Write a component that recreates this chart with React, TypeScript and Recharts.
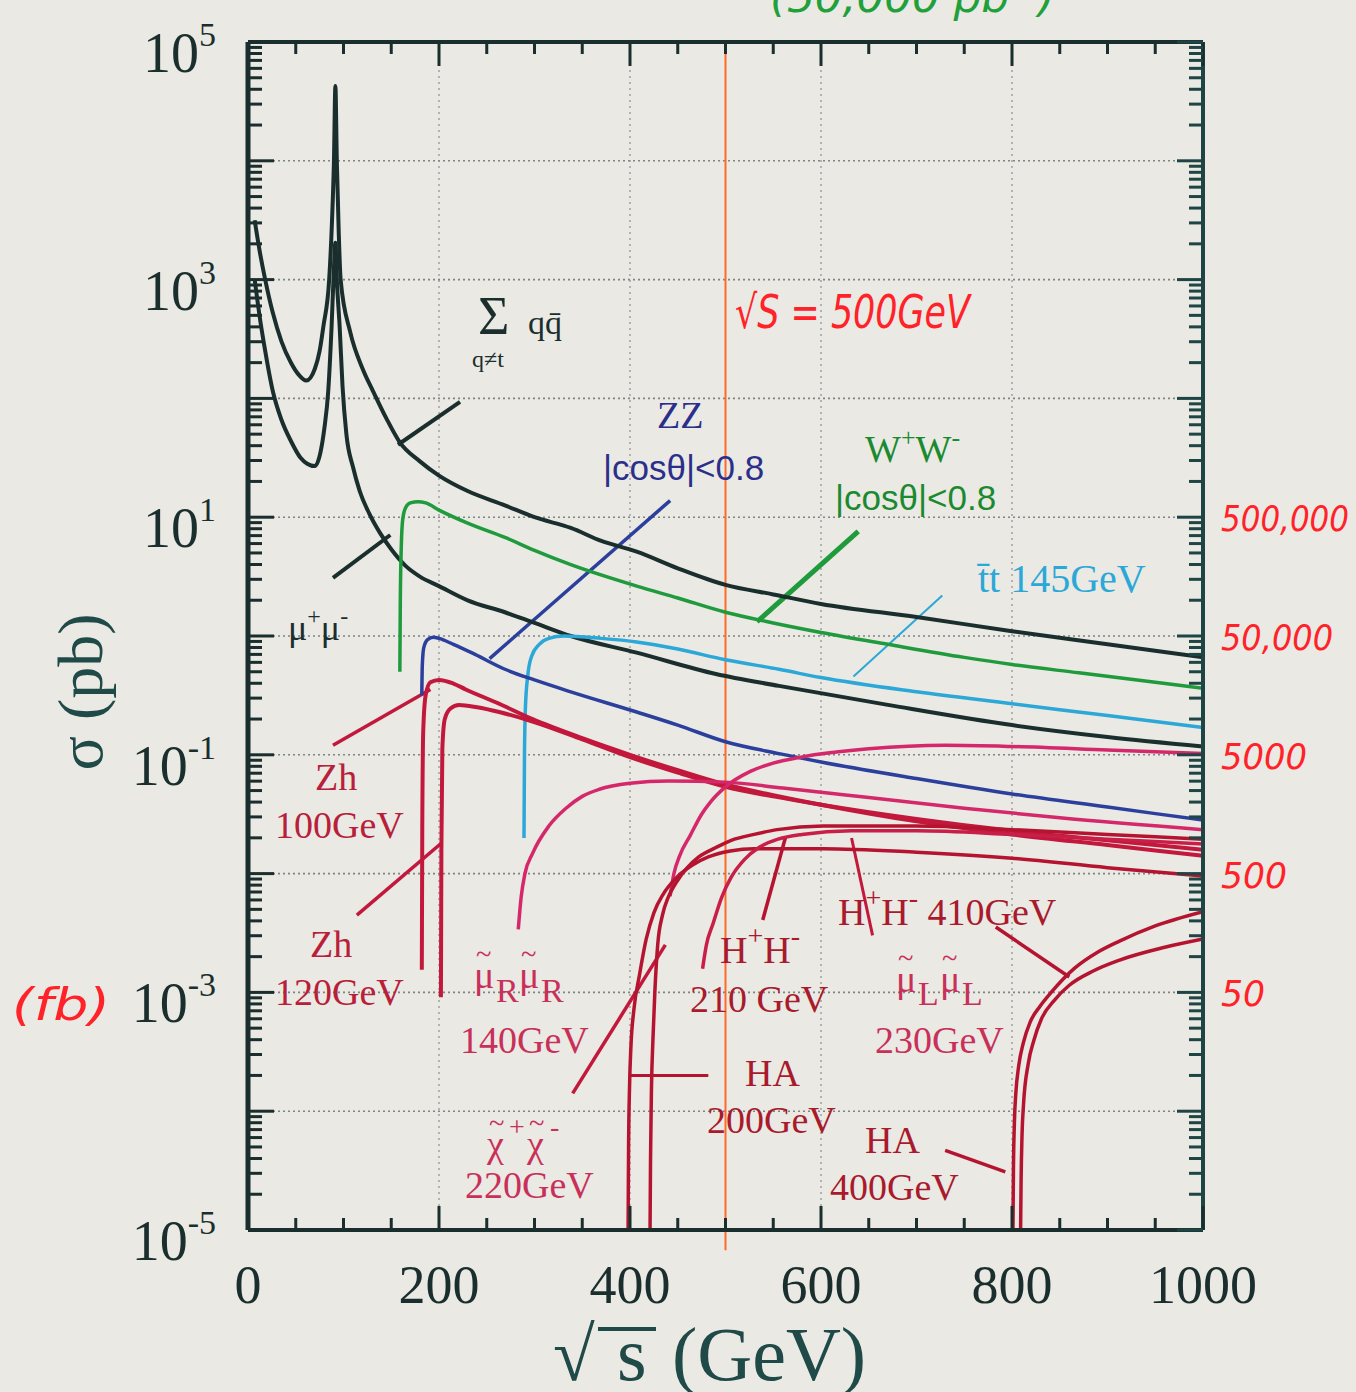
import React from "react";
import { LineChart, Line, XAxis, YAxis, ReferenceLine } from "recharts";

// [sqrt(s) in GeV, log10(sigma / pb)]
type Pt = [number, number];

const qqbar: Pt[] = [
  [7, 3.5], [12, 3.25], [18, 3.0], [26, 2.72], [35, 2.48], [45, 2.3], [53, 2.2], [61, 2.15],
  [70, 2.25], [75, 2.4], [79, 2.61], [85, 3.0], [88, 3.5], [90, 4.0], [91.5, 4.63], [93, 4.0],
  [95, 3.4], [97, 3.0], [107, 2.56], [120, 2.25], [131, 2.06], [145, 1.83], [159, 1.63],
  [180, 1.47], [200, 1.35], [230, 1.22], [269, 1.1], [300, 1.0], [338, 0.91], [370, 0.8],
  [407, 0.71], [450, 0.57], [500, 0.43], [550, 0.35], [600, 0.27], [700, 0.16], [800, 0.04],
  [900, -0.07], [1000, -0.18],
];

const mumu: Pt[] = [
  [7, 3.0], [12, 2.7], [18, 2.4], [26, 2.06], [35, 1.82], [45, 1.64], [55, 1.5], [62, 1.45],
  [70, 1.43], [76, 1.55], [80, 1.75], [84, 2.06], [87.5, 2.6], [90, 3.1], [91.5, 3.31],
  [93, 3.0], [96, 2.6], [99, 2.1], [103, 1.7], [110, 1.42], [117, 1.22], [127, 1.03],
  [138, 0.87], [150, 0.73], [165, 0.59], [180, 0.5], [200, 0.42], [230, 0.3], [269, 0.2],
  [300, 0.11], [338, 0.0], [407, -0.14], [490, -0.32], [556, -0.42], [670, -0.58],
  [800, -0.75], [900, -0.85], [1000, -0.93],
];

const wwPairs: Pt[] = [
  [159, -0.3], [159.5, 0.3], [160.5, 0.75], [162, 0.98], [165, 1.08], [170, 1.12], [178, 1.13],
  [186, 1.12], [200, 1.06], [230, 0.95], [269, 0.83], [300, 0.72], [338, 0.6], [407, 0.42],
  [450, 0.32], [500, 0.2], [550, 0.11], [600, 0.03], [670, -0.07], [750, -0.18], [800, -0.24],
  [870, -0.31], [950, -0.39], [1000, -0.44],
];

const zzPairs: Pt[] = [
  [182, -0.5], [182.5, -0.25], [184, -0.1], [188, -0.03], [194, -0.01], [200, -0.02],
  [215, -0.07], [234, -0.14], [269, -0.28], [300, -0.37], [338, -0.47], [407, -0.64],
  [450, -0.75], [500, -0.89], [556, -0.99], [600, -1.06], [700, -1.2], [800, -1.33],
  [900, -1.44], [1000, -1.55],
];

const ttbar: Pt[] = [
  [289, -1.7], [289.5, -1.0], [290.5, -0.6], [293, -0.33], [297, -0.17], [305, -0.07],
  [315, -0.02], [331, 0.0], [370, -0.02], [407, -0.05], [450, -0.11], [500, -0.2],
  [556, -0.28], [600, -0.35], [700, -0.47], [800, -0.57], [900, -0.67], [1000, -0.77],
];

const zh100: Pt[] = [
  [182, -2.81], [182.5, -1.6], [183.5, -0.8], [186, -0.5], [191, -0.39], [200, -0.37],
  [215, -0.4], [228, -0.45], [260, -0.56], [298, -0.7], [350, -0.86], [400, -1.0],
  [450, -1.13], [500, -1.25], [550, -1.34], [600, -1.42], [700, -1.56], [800, -1.67],
  [900, -1.76], [1000, -1.85],
];

const zh120: Pt[] = [
  [202, -3.04], [202.5, -1.8], [203.5, -0.95], [206, -0.7], [212, -0.61], [221, -0.58],
  [240, -0.6], [263, -0.64], [298, -0.72], [350, -0.87], [400, -1.02], [450, -1.15],
  [500, -1.27], [550, -1.35], [600, -1.42], [700, -1.54], [800, -1.64], [900, -1.72],
  [1000, -1.8],
];

const smuonR: Pt[] = [
  [283, -2.47], [286, -2.2], [290, -2.0], [298, -1.83], [315, -1.6], [333, -1.45],
  [350, -1.35], [368, -1.29], [400, -1.24], [440, -1.22], [500, -1.23], [560, -1.28],
  [650, -1.36], [750, -1.45], [850, -1.53], [1000, -1.63],
];

const chargino: Pt[] = [
  [442, -2.19], [446, -2.0], [452, -1.85], [463, -1.68], [475, -1.5], [484, -1.4],
  [500, -1.27], [526, -1.14], [550, -1.07], [579, -1.02], [650, -0.95], [730, -0.92],
  [800, -0.93], [900, -0.96], [1000, -0.99],
];

const ha200: Pt[] = [
  [398, -5], [398.5, -4.3], [399.5, -3.8], [401, -3.45], [404, -3.15], [410, -2.85],
  [417, -2.55], [425, -2.33], [435, -2.17], [448, -2.04], [465, -1.93], [482, -1.86],
  [505, -1.81], [530, -1.79], [602, -1.79], [700, -1.82], [800, -1.87], [900, -1.95],
  [1000, -2.02],
];

const hh210: Pt[] = [
  [421, -5], [421.5, -4.4], [422.5, -3.8], [424, -3.4], [426, -3.0], [429, -2.6],
  [434, -2.35], [440, -2.2], [448, -2.08], [460, -1.95], [472, -1.86], [490, -1.78],
  [506, -1.72], [530, -1.67], [554, -1.63], [602, -1.6], [700, -1.6], [800, -1.63],
  [900, -1.67], [1000, -1.71],
];

const smuonL: Pt[] = [
  [476, -2.8], [480, -2.6], [487, -2.42], [496, -2.2], [506, -2.03], [520, -1.88],
  [535, -1.78], [555, -1.71], [580, -1.67], [632, -1.64], [700, -1.64], [800, -1.67],
  [900, -1.71], [1000, -1.75],
];

const ha400: Pt[] = [
  [801, -5], [801.5, -4.5], [802.5, -4.1], [804, -3.85], [807, -3.62], [812, -3.42],
  [819, -3.25], [829, -3.12], [841, -3.0], [865, -2.8], [890, -2.66], [912, -2.57],
  [950, -2.44], [1000, -2.32],
];

const hh410: Pt[] = [
  [809, -5], [809.5, -4.6], [810.5, -4.2], [812, -3.95], [817, -3.6], [823, -3.4],
  [831, -3.22], [845, -3.06], [860, -2.94], [885, -2.82], [912, -2.73], [960, -2.62],
  [1000, -2.55],
];

// leader lines from the labels to their curves, same units as above
const leaderLines: [Pt, Pt][] = [
  [[157, 1.61], [222, 1.97]],
  [[89, 0.49], [149, 0.85]],
  [[253, -0.19], [442, 1.14]],
  [[533, 0.12], [639, 0.88]],
  [[634, -0.34], [727, 0.34]],
  [[89, -0.92], [191, -0.45]],
  [[114, -2.35], [203, -1.74]],
  [[340, -3.85], [437, -2.6]],
  [[400, -3.7], [482, -3.7]],
  [[539, -2.39], [563, -1.69]],
  [[654, -2.52], [632, -1.7]],
  [[783, -2.45], [860, -2.87]],
  [[730, -4.33], [793, -4.51]],
];

const xTicks = [0, 50, 100, 150, 200, 250, 300, 350, 400, 450, 500, 550, 600, 650, 700, 750, 800, 850, 900, 950, 1000];
const xLabelTicks = [0, 200, 400, 600, 800, 1000];
const xGrid = [200, 400, 600, 800];
const decades = [-5, -4, -3, -2, -1, 0, 1, 2, 3, 4, 5];
const labelledDecades = [-5, -3, -1, 1, 3, 5];
const minorSteps = [2, 3, 4, 5, 6, 7, 8, 9];
// event counts for 50,000 pb^-1, hand-written on the right
const eventDecades = [1, 0, -1, -2, -3];
const eventLabels = ["500,000", "50,000", "5000", "500", "50"];

const INK = "#1b2e2e";
const SERIF = "'Liberation Serif', 'Times New Roman', serif";
const SANS = "'Liberation Sans', Arial, sans-serif";
const HAND = "'DejaVu Sans Condensed', 'DejaVu Sans', sans-serif";
const PEN = "#ff2228";
const EVENT_WIDTH = [128, 112, 86, 66, 44];

const yTicks = decades.flatMap((e) =>
  e < 5 ? [Math.pow(10, e), ...minorSteps.map((m) => m * Math.pow(10, e))] : [Math.pow(10, e)]
);

const rows = (pts: Pt[]) => pts.map(([x, l]) => ({ x, y: Math.pow(10, l) }));

const SERIES = [
  { pts: qqbar, color: INK, w: 4 },
  { pts: mumu, color: INK, w: 4 },
  { pts: wwPairs, color: "#1f9a3c", w: 3.5 },
  { pts: ttbar, color: "#2ba7d8", w: 3.5 },
  { pts: zzPairs, color: "#2b3f9c", w: 3.5 },
  { pts: zh100, color: "#c2183c", w: 4 },
  { pts: zh120, color: "#c2183c", w: 4 },
  { pts: smuonR, color: "#d4286a", w: 3.5 },
  { pts: chargino, color: "#d4286a", w: 3.5 },
  { pts: ha200, color: "#b51430", w: 3.5 },
  { pts: hh210, color: "#b51430", w: 3.5 },
  { pts: smuonL, color: "#c81e48", w: 3.5 },
  { pts: ha400, color: "#b51430", w: 3.5 },
  { pts: hh410, color: "#b51430", w: 3.5 },
];

const LEADER_STYLE = [
  { c: INK, w: 4 },
  { c: INK, w: 4 },
  { c: "#2b3f9c", w: 3.5 },
  { c: "#1f9a3c", w: 5 },
  { c: "#2ba7d8", w: 2 },
  { c: "#c2183c", w: 3.5 },
  { c: "#c2183c", w: 3.5 },
  { c: "#c2183c", w: 3.5 },
  { c: "#b51430", w: 3 },
  { c: "#b51430", w: 3.5 },
  { c: "#c2183c", w: 3 },
  { c: "#b51430", w: 3.5 },
  { c: "#b51430", w: 3.5 },
];

const decadeOf = (v: number) => {
  const lg = Math.log10(v);
  const e = Math.round(lg);
  return Math.abs(lg - e) < 1e-6 ? e : null;
};

function BottomTick(props: any) {
  const { x, y, payload } = props;
  const v = payload.value;
  const major = v % 200 === 0;
  return (
    <g>
      <line x1={x} y1={y} x2={x} y2={y - (major ? 24 : 12)} stroke={INK} strokeWidth={3} />
      {xLabelTicks.includes(v) && (
        <text x={x} y={y + 73} textAnchor="middle" fontSize={54} fontFamily={SERIF} fill={INK}>
          {v}
        </text>
      )}
    </g>
  );
}

function TopTick(props: any) {
  const { x, y, payload } = props;
  const major = payload.value % 200 === 0;
  return <line x1={x} y1={y} x2={x} y2={y + (major ? 24 : 12)} stroke={INK} strokeWidth={3} />;
}

function LeftTick(props: any) {
  const { x, y, payload } = props;
  const e = decadeOf(payload.value);
  return (
    <g>
      <line x1={x} y1={y} x2={x + (e !== null ? 26 : 14)} y2={y} stroke={INK} strokeWidth={3} />
      {e !== null && labelledDecades.includes(e) && (
        <text x={x - 32} y={y + 30} textAnchor="end" fontSize={56} fontFamily={SERIF} fill={INK}>
          10
          <tspan dy={-26} fontSize={34}>
            {String(e)}
          </tspan>
        </text>
      )}
    </g>
  );
}

function RightTick(props: any) {
  const { x, y, payload } = props;
  const e = decadeOf(payload.value);
  const i = e === null ? -1 : eventDecades.indexOf(e);
  return (
    <g>
      <line x1={x} y1={y} x2={x - (e !== null ? 26 : 14)} y2={y} stroke="#1f4444" strokeWidth={3} />
      {i >= 0 && (
        <text
          x={x + 18}
          y={y + 14}
          fontSize={36}
          fontStyle="italic"
          fontFamily={HAND}
          fill={PEN}
          textLength={EVENT_WIDTH[i]}
          lengthAdjust="spacingAndGlyphs"
        >
          {eventLabels[i]}
        </text>
      )}
    </g>
  );
}

// glyph with a tilde drawn above it
function Tilde({ x, y, fill, size = 38, children }: any) {
  return (
    <g fill={fill} fontFamily={SERIF}>
      <text x={x} y={y} fontSize={size}>
        {children}
      </text>
      <text x={x + 2} y={y - size * 0.62} fontSize={size * 0.75}>
        ~
      </text>
    </g>
  );
}

function Labels() {
  const t = (x: number, y: number, fill: string, size: number, s: string, font = SERIF) => (
    <text x={x} y={y} fill={fill} fontSize={size} fontFamily={font}>
      {s}
    </text>
  );
  const red = "#b8203a";
  const pink = "#c8305a";
  const dark = "#a81a2c";
  const axisInk = "#1f4a48";
  return (
    <svg width={1356} height={1392} style={{ position: "absolute", left: 0, top: 0, pointerEvents: "none" }}>
      <text x={770} y={12} fill="#21a03a" fontSize={42} fontStyle="italic" fontFamily={HAND} textLength={285} lengthAdjust="spacingAndGlyphs">
        (50,000 pb<tspan dy={-14} fontSize={28}>-1</tspan>
        <tspan dy={14}>)</tspan>
      </text>
      <text x={735} y={328} fill={PEN} fontSize={46} fontStyle="italic" fontFamily={HAND} textLength={235} lengthAdjust="spacingAndGlyphs">
        √S = 500GeV
      </text>
      <text x={12} y={1020} fill={PEN} fontSize={44} fontStyle="italic" fontFamily={HAND} textLength={98} lengthAdjust="spacingAndGlyphs">
        (fb)
      </text>

      <text x={102} y={692} fill={axisInk} fontSize={64} fontFamily={SERIF} textAnchor="middle" transform="rotate(-90 102 692)">
        σ (pb)
      </text>
      <text x={553} y={1380} fill={axisInk} fontSize={76} fontFamily={SERIF}>
        √
      </text>
      <text x={617} y={1380} fill={axisInk} fontSize={76} fontFamily={SERIF}>
        s
      </text>
      <line x1={598} y1={1329} x2={656} y2={1329} stroke={axisInk} strokeWidth={4} />
      <text x={672} y={1380} fill={axisInk} fontSize={76} fontFamily={SERIF}>
        (GeV)
      </text>

      {t(478, 334, INK, 54, "Σ")}
      {t(528, 334, INK, 34, "qq\u0304")}
      {t(472, 367, INK, 24, "q≠t")}
      <text x={288} y={640} fill={INK} fontSize={36} fontFamily={SERIF}>
        μ<tspan dy={-16} fontSize={24}>+</tspan>
        <tspan dy={16}>μ</tspan>
        <tspan dy={-16} fontSize={24}>-</tspan>
      </text>

      {t(657, 428, "#2b2f8c", 38, "ZZ")}
      {t(603, 480, "#2b2f8c", 35, "|cosθ|<0.8", SANS)}
      <text x={865} y={462} fill="#1a8a30" fontSize={38} fontFamily={SERIF}>
        W<tspan dy={-16} fontSize={26}>+</tspan>
        <tspan dy={16}>W</tspan>
        <tspan dy={-16} fontSize={26}>-</tspan>
      </text>
      {t(835, 510, "#1a8a30", 35, "|cosθ|<0.8", SANS)}
      {t(978, 592, "#2ba7d8", 40, "t\u0304t 145GeV")}

      {t(315, 790, red, 38, "Zh")}
      {t(275, 838, red, 38, "100GeV")}
      {t(310, 957, red, 38, "Zh")}
      {t(275, 1005, red, 38, "120GeV")}

      <Tilde x={474} y={988} fill={pink}>μ</Tilde>
      {t(496, 1002, pink, 34, "R")}
      <Tilde x={519} y={988} fill={pink}>μ</Tilde>
      {t(541, 1002, pink, 34, "R")}
      {t(460, 1053, pink, 38, "140GeV")}

      <Tilde x={487} y={1157} fill={pink}>χ</Tilde>
      {t(509, 1136, pink, 28, "+")}
      <Tilde x={527} y={1157} fill={pink}>χ</Tilde>
      {t(550, 1136, pink, 28, "-")}
      {t(465, 1198, pink, 38, "220GeV")}

      <text x={720} y={963} fill={dark} fontSize={38} fontFamily={SERIF}>
        H<tspan dy={-18} fontSize={28}>+</tspan>
        <tspan dy={18}>H</tspan>
        <tspan dy={-18} fontSize={28}>-</tspan>
      </text>
      {t(690, 1012, dark, 38, "210 GeV")}
      {t(745, 1086, dark, 38, "HA")}
      {t(707, 1133, dark, 38, "200GeV")}

      <text x={838} y={925} fill={dark} fontSize={38} fontFamily={SERIF}>
        H<tspan dy={-18} fontSize={28}>+</tspan>
        <tspan dy={18}>H</tspan>
        <tspan dy={-18} fontSize={28}>-</tspan>
        <tspan dy={18}> 410GeV</tspan>
      </text>
      <Tilde x={896} y={992} fill={pink}>μ</Tilde>
      {t(918, 1005, pink, 34, "L")}
      <Tilde x={940} y={992} fill={pink}>μ</Tilde>
      {t(962, 1005, pink, 34, "L")}
      {t(875, 1053, pink, 38, "230GeV")}
      {t(865, 1153, dark, 38, "HA")}
      {t(830, 1200, dark, 38, "400GeV")}
    </svg>
  );
}

export default function App() {
  return (
    <div style={{ position: "absolute", left: 0, top: 0, width: 1356, height: 1392, background: "#eae9e3", overflow: "hidden" }}>
      <LineChart width={1356} height={1392} margin={{ top: 41, right: 152, bottom: 161, left: 247 }}>
        <XAxis
          xAxisId="b"
          type="number"
          dataKey="x"
          domain={[0, 1000]}
          allowDataOverflow
          ticks={xTicks}
          interval={0}
          height={1}
          tickSize={0}
          tickMargin={0}
          tickLine={false}
          axisLine={{ stroke: INK, strokeWidth: 4 }}
          tick={(p: any) => <BottomTick {...p} />}
        />
        <XAxis
          xAxisId="t"
          orientation="top"
          type="number"
          dataKey="x"
          domain={[0, 1000]}
          allowDataOverflow
          ticks={xTicks}
          interval={0}
          height={1}
          tickSize={0}
          tickMargin={0}
          tickLine={false}
          axisLine={{ stroke: INK, strokeWidth: 4 }}
          tick={(p: any) => <TopTick {...p} />}
        />
        <YAxis
          yAxisId="l"
          type="number"
          scale="log"
          domain={[1e-5, 1e5]}
          allowDataOverflow
          ticks={yTicks}
          interval={0}
          width={1}
          tickSize={0}
          tickMargin={0}
          tickLine={false}
          axisLine={{ stroke: INK, strokeWidth: 5 }}
          tick={(p: any) => <LeftTick {...p} />}
        />
        <YAxis
          yAxisId="r"
          orientation="right"
          type="number"
          scale="log"
          domain={[1e-5, 1e5]}
          allowDataOverflow
          ticks={yTicks}
          interval={0}
          width={1}
          tickSize={0}
          tickMargin={0}
          tickLine={false}
          axisLine={{ stroke: "#1f4444", strokeWidth: 4 }}
          tick={(p: any) => <RightTick {...p} />}
        />

        {decades.slice(1, -1).map((e) => (
          <ReferenceLine key={`gy${e}`} xAxisId="b" yAxisId="l" y={Math.pow(10, e)} stroke="#7d8585" strokeWidth={1.6} strokeDasharray="2 3" />
        ))}
        {xGrid.map((v) => (
          <ReferenceLine key={`gx${v}`} xAxisId="b" yAxisId="l" x={v} stroke="#8a9090" strokeWidth={1.2} strokeDasharray="2 4" />
        ))}
        <ReferenceLine
          xAxisId="b"
          yAxisId="l"
          ifOverflow="visible"
          segment={[{ x: 500, y: 1e5 }, { x: 500, y: Math.pow(10, -5.17) }]}
          stroke="#ff6a26"
          strokeWidth={2}
        />

        {leaderLines.map(([a, b], i) => (
          <ReferenceLine
            key={`ld${i}`}
            xAxisId="b"
            yAxisId="l"
            ifOverflow="visible"
            segment={[{ x: a[0], y: Math.pow(10, a[1]) }, { x: b[0], y: Math.pow(10, b[1]) }]}
            stroke={LEADER_STYLE[i].c}
            strokeWidth={LEADER_STYLE[i].w}
          />
        ))}

        {SERIES.map((s, i) => (
          <Line
            key={`s${i}`}
            xAxisId="b"
            yAxisId="l"
            data={rows(s.pts)}
            dataKey="y"
            type="monotone"
            stroke={s.color}
            strokeWidth={s.w}
            dot={false}
            activeDot={false}
            isAnimationActive={false}
          />
        ))}
      </LineChart>
      <Labels />
    </div>
  );
}
